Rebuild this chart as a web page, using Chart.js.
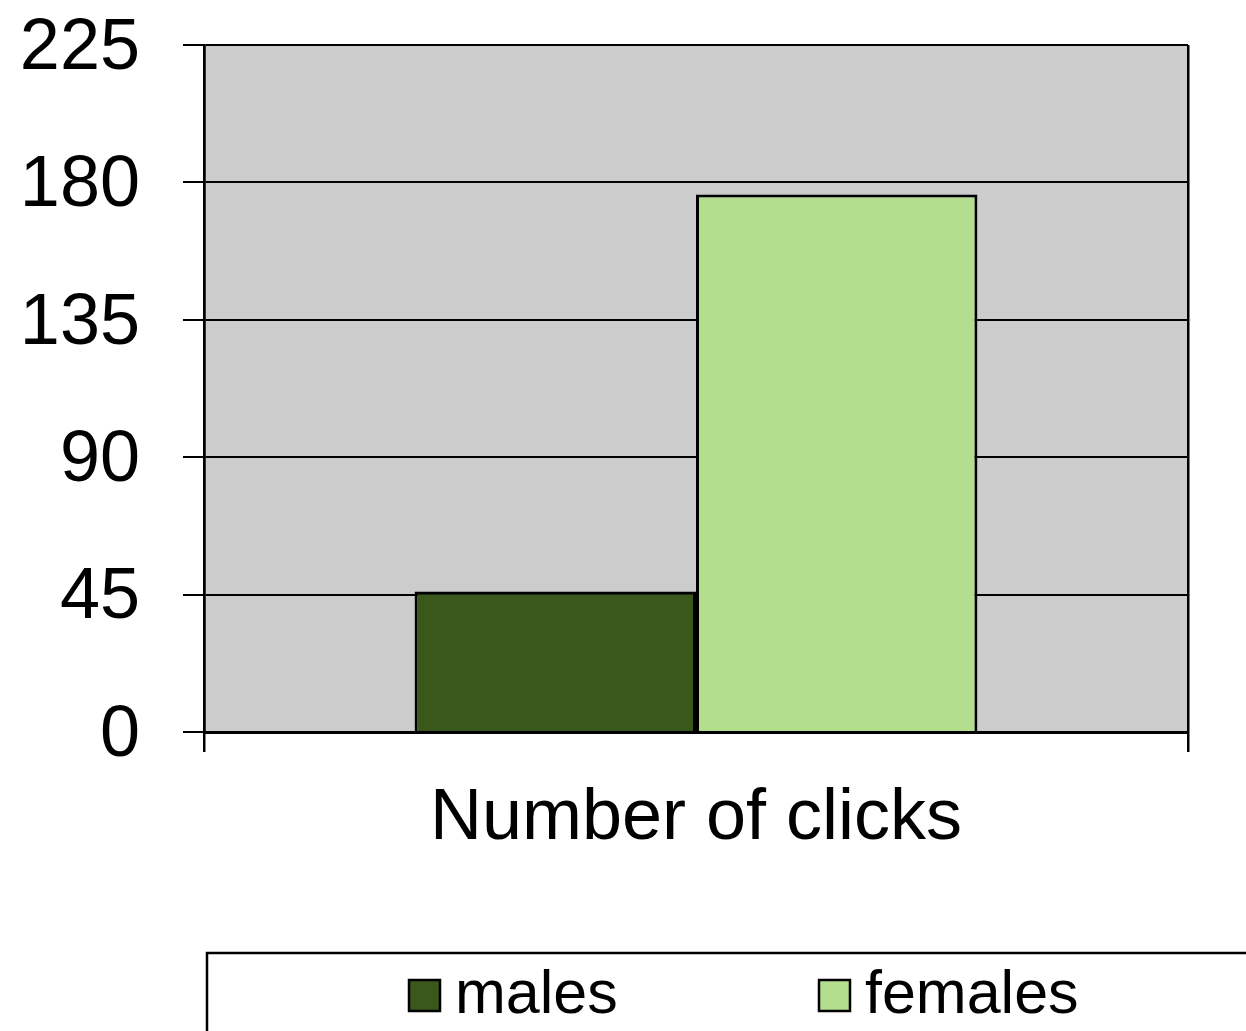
<!DOCTYPE html>
<html>
<head>
<meta charset="utf-8">
<script src="https://cdn.jsdelivr.net/npm/chart.js@4"></script>
<style>
html,body{margin:0;padding:0;background:#fff;}
#wrap{width:1246px;height:1031px;position:relative;}
</style>
</head>
<body>
<div id="wrap"><canvas id="c" width="1246" height="1031"></canvas></div>
<script>
const categories = ["Number of clicks"];
const seriesNames = ["males", "females"];
const malesValues = [46];
const femalesValues = [176];
const yTicks = [0, 45, 90, 135, 180, 225];
const seriesColors = ["#3A571C", "#B3DE8E"];

const FONT = "'Liberation Sans', Arial, sans-serif";

const bgPlugin = {
  id: 'bg',
  beforeDraw(chart) {
    const {ctx, chartArea: a} = chart;
    ctx.save();
    ctx.fillStyle = '#CCCCCC';
    ctx.fillRect(a.left, a.top, a.right - a.left, a.bottom - a.top);
    ctx.restore();
  }
};

const legendPlugin = {
  id: 'customLegend',
  afterDraw(chart) {
    const ctx = chart.ctx;
    ctx.save();
    ctx.strokeStyle = '#000';
    ctx.lineWidth = 2.5;
    ctx.strokeRect(207, 953, 1100, 200);
    const xs = [409, 819];
    ctx.font = '61px ' + FONT;
    ctx.textBaseline = 'alphabetic';
    chart.data.datasets.forEach((ds, i) => {
      ctx.fillStyle = ds.backgroundColor;
      ctx.fillRect(xs[i], 980, 31, 31);
      ctx.lineWidth = 2.5;
      ctx.strokeRect(xs[i], 980, 31, 31);
      ctx.fillStyle = '#000';
      ctx.fillText(ds.label, xs[i] + 46, 1013);
    });
    ctx.restore();
  }
};

new Chart(document.getElementById('c'), {
  type: 'bar',
  data: {
    labels: categories,
    datasets: [
      {label: seriesNames[0], data: malesValues, backgroundColor: seriesColors[0], borderColor: '#000', borderWidth: 3},
      {label: seriesNames[1], data: femalesValues, backgroundColor: seriesColors[1], borderColor: '#000', borderWidth: 3}
    ]
  },
  options: {
    responsive: false,
    animation: false,
    devicePixelRatio: 1,
    layout: {padding: {left: 0, right: 58, top: 45, bottom: 0}},
    datasets: {bar: {barPercentage: 1, categoryPercentage: 0.572}},
    plugins: {legend: {display: false}, tooltip: {enabled: false}},
    scales: {
      x: {
        grid: {offset: true, color: '#000', lineWidth: 2.5, tickLength: 20, drawOnChartArea: true},
        border: {color: '#000', width: 3},
        ticks: {color: '#000', font: {family: FONT, size: 72}, padding: 24},
        afterFit(scale) { scale.height = 1031 - 732; scale.paddingLeft = 0; scale.paddingRight = 0; }
      },
      y: {
        min: 0, max: 225,
        afterBuildTicks(scale) { scale.ticks = yTicks.map(v => ({value: v})); },
        grid: {color: '#000', lineWidth: 2, tickLength: 21},
        border: {color: '#000', width: 2.5},
        ticks: {color: '#000', font: {family: FONT, size: 72}, padding: 43, labelOffset: 4},
        afterFit(scale) { scale.width = 204; scale.paddingTop = 0; scale.paddingBottom = 0; }
      }
    }
  },
  plugins: [bgPlugin, legendPlugin]
});
</script>
</body>
</html>
